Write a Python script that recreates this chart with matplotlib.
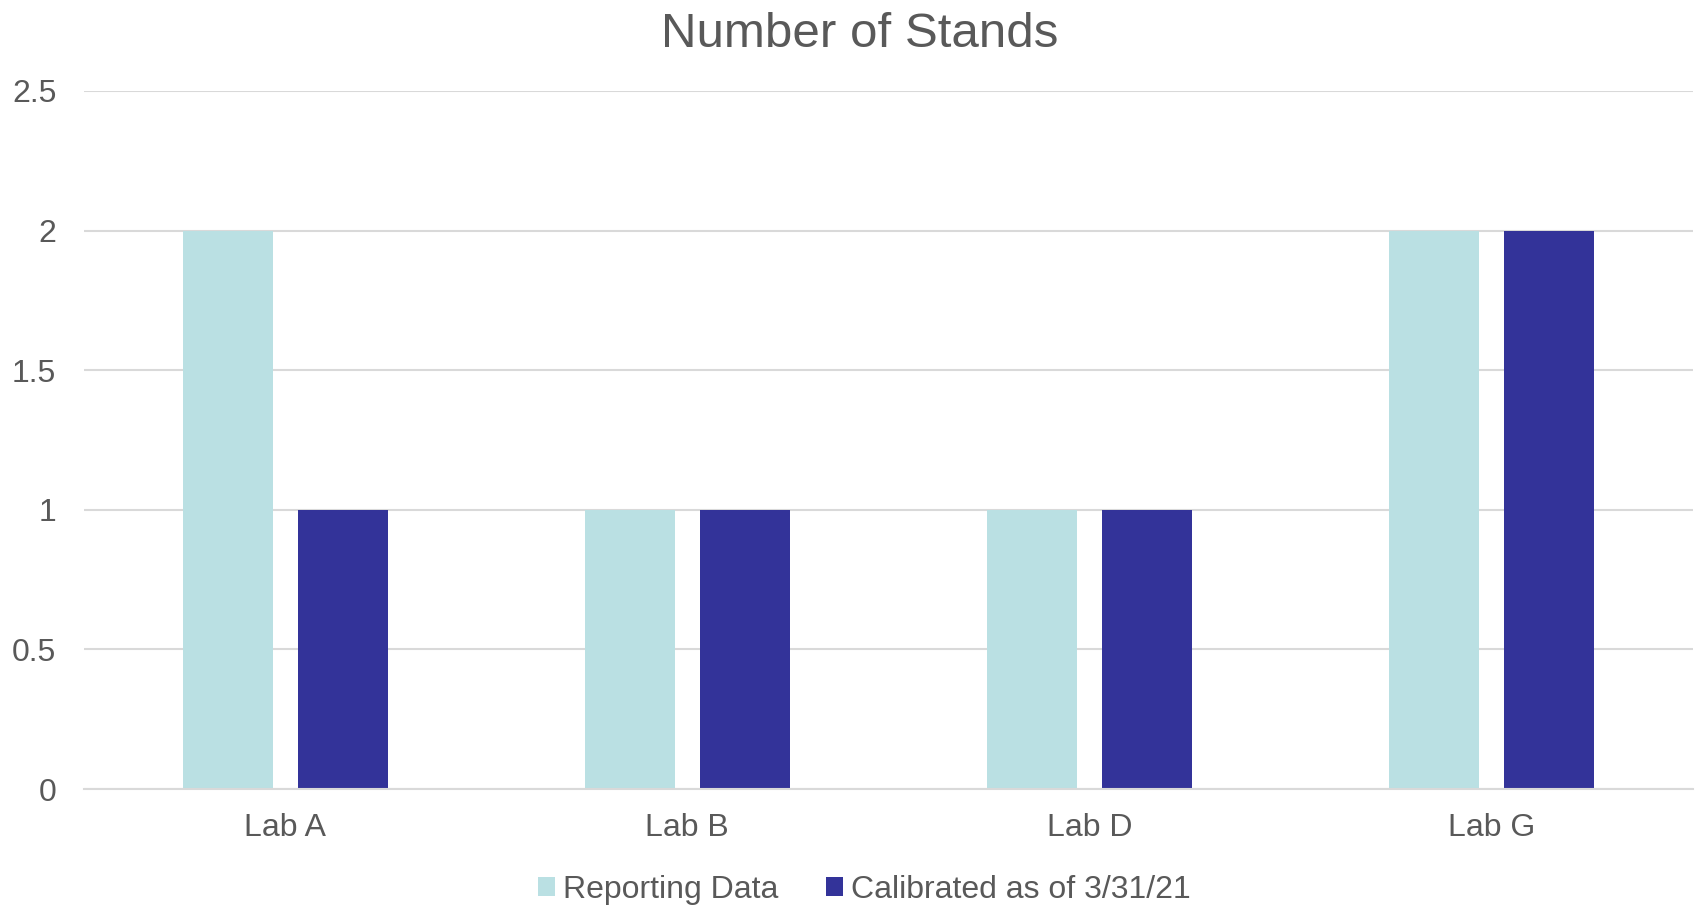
import numpy as np
import matplotlib
matplotlib.use("Agg")
from matplotlib import pyplot as plt

labs = ["Lab A", "Lab B", "Lab D", "Lab G"]
reporting = [2, 1, 1, 2]
calibrated = [1, 1, 1, 2]
series_names = ["Reporting Data", "Calibrated as of 3/31/21"]
yticks = [0, 0.5, 1, 1.5, 2, 2.5]
ytick_labels = ["0", "0.5", "1", "1.5", "2", "2.5"]

light = "#BAE0E3"
dark = "#333399"
grey_text = "#595959"
grid_col = "#D9D9D9"

plt.rcParams['font.family'] = ['Liberation Sans', 'DejaVu Sans']

fig = plt.figure(figsize=(16.98, 9.06), dpi=100)
ax = fig.add_axes([0.0495, 0.129, 0.9475, 0.7706])

x = np.arange(len(labs))
w = 0.224
off = 0.143
ax.bar(x - off, reporting, w, color=light, label=series_names[0], zorder=3)
ax.bar(x + off, calibrated, w, color=dark, label=series_names[1], zorder=3)

ax.set_xlim(-0.5, len(labs) - 0.5)
ax.set_ylim(0, 2.5)
ax.set_yticks(yticks)
ax.set_yticklabels(ytick_labels)
ax.set_xticks(x)
ax.set_xticklabels(labs)
ax.yaxis.grid(True, color=grid_col, linewidth=1.5, zorder=0)
ax.tick_params(axis='both', length=0, labelsize=23, labelcolor=grey_text)
ax.tick_params(axis='y', pad=20)
ax.tick_params(axis='x', pad=17)
for s in ["top", "right", "left"]:
    ax.spines[s].set_visible(False)
ax.spines["bottom"].set_color(grid_col)
ax.spines["bottom"].set_linewidth(1.5)
ax.spines["bottom"].set_zorder(4)

fig.text(0.506, 0.962, "Number of Stands", ha='center', va='center',
         fontsize=35.5, color=grey_text)

fig.legend(loc='center', bbox_to_anchor=(0.509, 0.018), ncol=2, frameon=False,
           fontsize=23, labelcolor=grey_text, handlelength=0.52, handleheight=0.52,
           handletextpad=0.25, columnspacing=1.5, borderaxespad=0, borderpad=0)

fig.savefig("out.png", dpi=100, facecolor="white")
